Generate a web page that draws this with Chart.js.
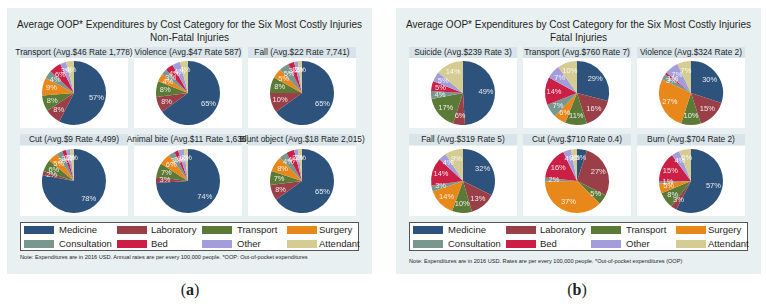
<!DOCTYPE html>
<html>
<head>
<meta charset="utf-8">
<script src="https://cdn.jsdelivr.net/npm/chart.js@4.4.1/dist/chart.umd.min.js"></script>
<style>
  body { margin: 0; width: 766px; height: 308px; position: relative; overflow: hidden; background: #fff;
         font-family: "Liberation Sans", Arial, sans-serif; color: #1e1e1e; }
  .panel { position: absolute; top: 8px; width: 365px; height: 266px; background: #e9f0f2; }
  .title { position: absolute; left: 0; width: 100%; display: flex; justify-content: center; white-space: nowrap; }
  .strip { position: absolute; width: 108px; height: 11px; background: #d8e4e9; font-size: 8.4px; line-height: 11px;
           display: flex; justify-content: center; white-space: nowrap; }
  .plot { position: absolute; width: 108px; height: 70px; background: #fff; }
  .legend { position: absolute; left: 13px; top: 214px; width: 339px; height: 29px; background: #fff;
            border: 1px solid #555; box-sizing: border-box; }
  .sw { position: absolute; width: 30px; height: 8px; }
  .lt { position: absolute; font-size: 9.5px; line-height: 12px; white-space: nowrap; }
  .note { position: absolute; left: 13px; font-size: 5.6px; white-space: nowrap; }
  .cap { position: absolute; top: 281px; font-family: "Liberation Serif", serif; font-size: 16px; width: 40px; text-align: center; }
</style>
</head>
<body>
<script>
// cost categories, in the order they are drawn (clockwise from 12 o'clock)
const costCategories = ['Medicine', 'Laboratory', 'Transport', 'Surgery', 'Consultation', 'Bed', 'Other', 'Attendant'];
const costColors = ['#2d527c', '#9a3f48', '#5b7a37', '#e8871a', '#7a978f', '#cc1f45', '#a49ddb', '#d4cc92'];

// (a) non-fatal injuries, shares in %
const nonFatalTitles = ['Transport (Avg.$46 Rate 1,778)', 'Violence (Avg.$47 Rate 587)', 'Fall (Avg.$22 Rate 7,741)',
  'Cut (Avg.$9 Rate 4,499)', 'Animal bite (Avg.$11 Rate 1,636)', 'Blunt object (Avg.$18 Rate 2,015)'];
const nfTransport = [57, 8, 8, 9, 4, 6, 3, 4];
const nfViolence  = [65, 8, 8, 4, 3, 4, 4, 4];
const nfFall      = [65, 10, 8, 5, 5, 3, 2, 2];
const nfCut       = [78, 2, 6, 5, 3, 2, 2, 2];
const nfAnimal    = [74, 3, 7, 6, 3, 2, 3, 2];
const nfBlunt     = [65, 8, 7, 8, 4, 4, 2, 2];

// (b) fatal injuries, shares in %
const fatalTitles = ['Suicide (Avg.$239 Rate 3)', 'Transport (Avg.$760 Rate 7)', 'Violence (Avg.$324 Rate 2)',
  'Fall (Avg.$319 Rate 5)', 'Cut (Avg.$710 Rate 0.4)', 'Burn (Avg.$704 Rate 2)'];
const fSuicide   = [49, 6, 17, 0, 4, 5, 5, 14];
const fTransport = [29, 16, 11, 6, 7, 14, 7, 10];
const fViolence  = [30, 15, 10, 27, 3, 1, 7, 7];
const fFall      = [32, 13, 10, 14, 3, 14, 4, 9];
const fCut       = [5, 27, 5, 37, 2, 16, 4, 3];
const fBurn      = [57, 3, 8, 5, 1, 15, 4, 6];

const panels = [
  { left: 7, sub: 'Non-Fatal Injuries', titles: nonFatalTitles,
    series: [nfTransport, nfViolence, nfFall, nfCut, nfAnimal, nfBlunt],
    note: 'Note: Expenditures are in 2016 USD. Annual rates are per every 100,000 people. *OOP: Out-of-pocket expenditures',
    noteTop: 246, cap: 'a', capX: 190 },
  { left: 396, sub: 'Fatal Injuries', titles: fatalTitles,
    series: [fSuicide, fTransport, fViolence, fFall, fCut, fBurn],
    note: 'Note: Expenditures are in 2016 USD. Rates are per every 100,000 people. *Out-of-pocket expenditures (OOP)',
    noteTop: 250, cap: 'b', capX: 577 }
];

// white percent labels inside the slices
const sliceLabels = {
  id: 'sliceLabels',
  afterDatasetsDraw(chart) {
    const { ctx } = chart;
    const meta = chart.getDatasetMeta(0);
    const vals = chart.data.datasets[0].data;
    ctx.save();
    ctx.font = '7.5px "Liberation Sans", Arial, sans-serif';
    ctx.fillStyle = 'rgba(255,255,255,0.88)';
    ctx.textAlign = 'center';
    ctx.textBaseline = 'middle';
    meta.data.forEach((arc, i) => {
      if (!vals[i]) return;
      const mid = (arc.startAngle + arc.endAngle) / 2;
      const r = arc.outerRadius * 0.72;
      ctx.fillText(vals[i] + '%', arc.x + Math.cos(mid) * r, arc.y + Math.sin(mid) * r);
    });
    ctx.restore();
  }
};

const colX = [13, 127, 241];
const stripY = [39, 126];
const plotY = [50, 138];
const legX = [[3, 38], [96, 130], [181, 216], [266, 298]];

panels.forEach(p => {
  const panel = document.createElement('div');
  panel.className = 'panel';
  panel.style.left = p.left + 'px';
  document.body.appendChild(panel);

  const t = document.createElement('div');
  t.className = 'title';
  t.style.top = '11px'; t.style.fontSize = '10px';
  t.textContent = 'Average OOP* Expenditures by Cost Category for the Six Most Costly Injuries';
  panel.appendChild(t);
  const s = document.createElement('div');
  s.className = 'title';
  s.style.top = '24px'; s.style.fontSize = '10px';
  s.textContent = p.sub;
  panel.appendChild(s);

  p.series.forEach((vals, k) => {
    const row = Math.floor(k / 3), col = k % 3;
    const st = document.createElement('div');
    st.className = 'strip';
    st.style.left = colX[col] + 'px'; st.style.top = stripY[row] + 'px';
    st.textContent = p.titles[k];
    panel.appendChild(st);

    const box = document.createElement('div');
    box.className = 'plot';
    box.style.left = colX[col] + 'px'; box.style.top = plotY[row] + 'px';
    const cv = document.createElement('canvas');
    cv.width = 108; cv.height = 70;
    box.appendChild(cv);
    panel.appendChild(box);

    new Chart(cv, {
      type: 'pie',
      data: {
        labels: costCategories,
        datasets: [{ data: vals, backgroundColor: costColors, borderWidth: 0 }]
      },
      options: {
        responsive: false,
        animation: false,
        layout: { padding: 3 },
        plugins: { legend: { display: false }, tooltip: { enabled: false } }
      },
      plugins: [sliceLabels]
    });
  });

  const leg = document.createElement('div');
  leg.className = 'legend';
  costCategories.forEach((name, i) => {
    const row = Math.floor(i / 4), col = i % 4;
    const sw = document.createElement('div');
    sw.className = 'sw';
    sw.style.background = costColors[i];
    sw.style.left = legX[col][0] + 'px'; sw.style.top = (3 + row * 14) + 'px';
    leg.appendChild(sw);
    const lt = document.createElement('div');
    lt.className = 'lt';
    lt.style.left = legX[col][1] + 'px'; lt.style.top = (1 + row * 14) + 'px';
    lt.textContent = name;
    leg.appendChild(lt);
  });
  panel.appendChild(leg);

  const n = document.createElement('div');
  n.className = 'note';
  n.style.top = p.noteTop + 'px';
  n.textContent = p.note;
  panel.appendChild(n);

  const c = document.createElement('div');
  c.className = 'cap';
  c.style.left = (p.capX - 20) + 'px';
  c.innerHTML = '(<b>' + p.cap + '</b>)';
  document.body.appendChild(c);
});
</script>
</body>
</html>
